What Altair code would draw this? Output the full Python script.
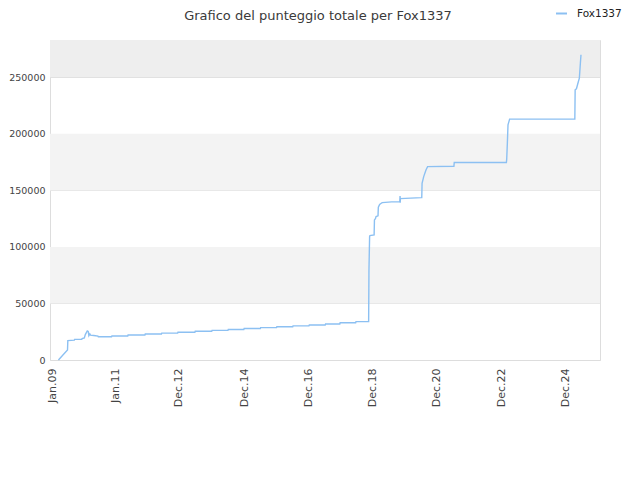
import altair as alt
import pandas as pd
import datetime as dt

# --- data (decimal year, total score) ---
years = [
    2009.26, 2009.54, 2009.55, 2009.75, 2009.76, 2009.98, 2009.99, 2010.06, 2010.09,
    2010.15, 2010.18, 2010.20, 2010.23, 2010.25, 2010.35, 2010.48, 2010.49, 2010.90,
    2010.91, 2011.40, 2011.41, 2011.93, 2011.94, 2012.44, 2012.45, 2012.94, 2012.95,
    2013.47, 2013.48, 2013.99, 2014.00, 2014.49, 2014.50, 2014.98, 2014.99, 2015.49,
    2015.50, 2015.99, 2016.00, 2016.49, 2016.50, 2016.99, 2017.00, 2017.49, 2017.50,
    2017.94, 2017.95, 2018.43, 2018.44, 2018.83, 2018.84, 2018.86, 2018.87, 2019.00,
    2019.01, 2019.04, 2019.06, 2019.12, 2019.13, 2019.17, 2019.22, 2019.25, 2019.54,
    2019.79, 2019.80, 2019.805, 2019.81, 2020.46, 2020.47, 2020.48, 2020.53, 2020.60,
    2020.65, 2021.46, 2021.47, 2023.08, 2023.09, 2023.11, 2023.13, 2023.18, 2025.19,
    2025.20, 2025.24, 2025.30, 2025.33, 2025.36, 2025.38,
]
scores = [
    0, 8800, 17100, 17600, 18200, 18400, 19000, 19500, 22500,
    25700, 25200, 21500, 23000, 22000, 21700, 21200, 20600, 20600,
    21200, 21200, 22100, 22100, 23000, 23000, 23800, 23800, 24600,
    24600, 25400, 25400, 26200, 26200, 27000, 27000, 27800, 27800,
    28600, 28600, 29400, 29400, 30200, 30200, 31000, 31000, 31800,
    31800, 32900, 32900, 33900, 33900, 79600, 109100, 110000, 110600,
    123900, 125000, 126800, 127500, 135100, 137500, 138600, 139200, 139800,
    139800, 145100, 139000, 142700, 143600, 143600, 156300, 162200, 168100,
    171000, 171300, 174600, 174600, 177600, 191800, 208000, 213000, 213000,
    239000, 239900, 246300, 249300, 262000, 269900,
]
series_name = "Fox1337"

tick_dates = ["2009-01-26", "2011-01-04", "2012-12-15", "2014-12-28", "2016-12-20",
              "2018-12-12", "2020-12-05", "2022-12-03", "2024-12-01"]
x_domain = ["2009-01-01", "2025-12-20"]
y_ticks = [0, 50000, 100000, 150000, 200000, 250000]
y_max = 283000

band_lo = [50000, 150000]
band_hi = [100000, 200000]
top_lo = [250000]
top_hi = [y_max]


def to_date(y):
    yi = int(y)
    start = dt.datetime(yi, 1, 1)
    return start + dt.timedelta(days=(y - yi) * 365.25)


df = pd.DataFrame({
    "date": [to_date(y) for y in years],
    "score": scores,
    "series": [series_name] * len(years),
})
bands = pd.DataFrame({"lo": band_lo, "hi": band_hi})
topband = pd.DataFrame({"lo": top_lo, "hi": top_hi})

x_scale = alt.Scale(domain=x_domain, nice=False)
y_scale = alt.Scale(domain=[0, y_max], nice=False, zero=True)

y_axis = alt.Axis(values=y_ticks, format="d", grid=True, gridColor="#dddddd",
                  labelFont="DejaVu Sans", labelFontSize=9.5, labelColor="#444444",
                  ticks=False, domain=False, labelPadding=5, title=None)

band_layer = alt.Chart(bands).mark_rect(color="#f3f3f3").encode(
    y=alt.Y("lo:Q", scale=y_scale, axis=y_axis),
    y2="hi:Q",
)
top_layer = alt.Chart(topband).mark_rect(color="#eeeeee").encode(
    y=alt.Y("lo:Q", scale=y_scale, axis=y_axis),
    y2="hi:Q",
)

line = alt.Chart(df).mark_line(strokeWidth=1.4, interpolate="linear").encode(
    x=alt.X("date:T", scale=x_scale, title=None,
            axis=alt.Axis(values=tick_dates, format="%b.%y", labelAngle=-90,
                          labelFont="DejaVu Sans", labelFontSize=11, labelColor="#444444",
                          grid=False, ticks=False, domain=False, labelPadding=8,
                          labelAlign="right", labelBaseline="middle")),
    y=alt.Y("score:Q", scale=y_scale, title=None, axis=y_axis),
    color=alt.Color("series:N",
                    scale=alt.Scale(domain=[series_name], range=["#8cc0f2"]),
                    legend=alt.Legend(title=None, orient="none", legendX=505, legendY=-33,
                                      symbolType="stroke", symbolStrokeWidth=2,
                                      symbolSize=120, labelOffset=9, labelFont="DejaVu Sans",
                                      labelFontSize=10.5, labelColor="#222222")),
)

chart = alt.layer(band_layer, top_layer, line).properties(
    width=550,
    height=320,
    autosize=alt.AutoSizeParams(type="none"),
    padding={"left": 42, "top": 32, "right": 32, "bottom": 112},
    title=alt.TitleParams("Grafico del punteggio totale per Fox1337", font="DejaVu Sans",
                          fontSize=13, fontWeight="normal", color="#3a3a3a",
                          anchor="middle", offset=0, dy=16, dx=-7),
).configure_view(stroke="#dddddd", strokeWidth=1)

chart.save("out.html", embed_options={"renderer": "svg", "actions": False})
